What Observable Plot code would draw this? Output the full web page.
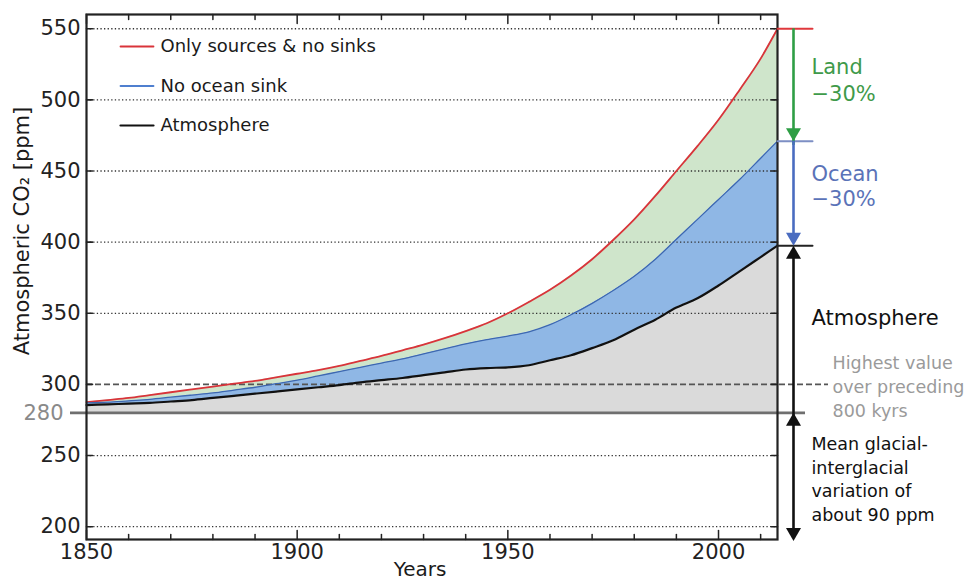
<!DOCTYPE html>
<html>
<head>
<meta charset="utf-8">
<script src="https://cdn.jsdelivr.net/npm/d3@7"></script>
<script src="https://cdn.jsdelivr.net/npm/@observablehq/plot@0.6"></script>
<style>
  html, body { margin: 0; padding: 0; background: #fff; }
  #chart svg { display: block; }
</style>
</head>
<body>
<div id="chart"></div>
<script>
// ---- Data ----
const years = [1850, 1855, 1860, 1865, 1870, 1875, 1880, 1885, 1890, 1895,
               1900, 1905, 1910, 1915, 1920, 1925, 1930, 1935, 1940, 1945,
               1950, 1955, 1960, 1965, 1970, 1975, 1980, 1985, 1990, 1995,
               2000, 2005, 2010, 2014];
// Atmosphere (observed CO2, ppm)
const atmosphere = [285.5, 286, 286.5, 287, 288, 289, 290.5, 292, 293.5, 295,
                    296.5, 298, 299.5, 301.5, 303, 304.5, 306.5, 308.5, 310.5, 311.5,
                    312, 313.5, 317, 320.5, 325.5, 331, 338.5, 345.5, 354, 360.5,
                    369.5, 379.5, 389.5, 397.5];
// No ocean sink
const noOceanSink = [287, 287.5, 288.5, 289.5, 291, 292.5, 294, 296, 298, 300.5,
                     303, 306, 309, 312, 315, 318, 321.5, 325, 328.5, 331.5,
                     334, 337, 342, 349, 357, 366, 376, 388, 402, 416,
                     430, 444, 459, 471];
// Only sources & no sinks
const onlySources = [287.5, 289, 290.5, 292.5, 294.5, 296.5, 298.5, 300.5, 302.5, 305,
                     307.5, 310, 313, 316.5, 320, 324, 328, 332.5, 337.5, 343,
                     350, 358, 366.5, 376.5, 388, 401.5, 416, 432.5, 450, 467.5,
                     486, 507, 529, 550];

const yTicks = [200, 250, 300, 350, 400, 450, 500, 550];
const gridValues = [200, 250, 350, 400, 450, 500, 550];
const xLabelTicks = [1850, 1900, 1950, 2000];
const xMinorTicks = [1860, 1870, 1880, 1890, 1910, 1920, 1930, 1940, 1960, 1970, 1980, 1990, 2010];
const preIndustrial = 280;
const highest800k = 300;
const glacialVariation = 90;

const legendLabels = ["Only sources & no sinks", "No ocean sink", "Atmosphere"];
const legendColors = ["#d9343a", "#4f7fcf", "#111111"];

// ---- Build table ----
const rows = years.map((year, i) => ({
  year, atm: atmosphere[i], noOcean: noOceanSink[i], sources: onlySources[i]
}));
const last = rows[rows.length - 1];
const lastYear = last.year;

const FONT = "DejaVu Sans, Liberation Sans, Arial, sans-serif";
const lineShape = {draw(context, l) { context.moveTo(0, 0); context.lineTo(0, -l); }};

const ARROW_DX = 16;
const TEXT_DX = 34;

function head(y, up, color) {
  return Plot.vector([y], {
    x: () => lastYear, y: d => d, dx: ARROW_DX,
    rotate: up ? 0 : 180, anchor: "end", length: 13, r: 7.5,
    shape: "spike", fill: color, stroke: "none"
  });
}
function hline(y, color) {
  return Plot.vector([y], {
    x: () => lastYear, y: d => d, rotate: 90, anchor: "start", length: 35,
    shape: lineShape, stroke: color, strokeWidth: 2
  });
}
// inward tick marks
function yTickMarks(anchor) {
  return Plot.vector(yTicks, {frameAnchor: anchor, y: d => d, rotate: anchor === "left" ? 90 : 270,
    anchor: "start", length: 6, shape: lineShape, stroke: "#222", strokeWidth: 1.6});
}
function xTickMarks(ticks, anchor, len) {
  return Plot.vector(ticks, {frameAnchor: anchor, x: d => d, rotate: anchor === "bottom" ? 0 : 180,
    anchor: "start", length: len, shape: lineShape, stroke: "#222", strokeWidth: 1.5});
}

const legendMarks = legendLabels.flatMap((label, i) => [
  Plot.vector([label], {frameAnchor: "top-left", dx: 34, dy: 32 + i * 39.5, rotate: 90,
    anchor: "start", length: 33, shape: lineShape, stroke: legendColors[i], strokeWidth: i === 2 ? 2.2 : 1.8}),
  Plot.text([label], {frameAnchor: "top-left", dx: 74, dy: 32 + i * 39.5, text: d => d,
    textAnchor: "start", lineAnchor: "middle", fontSize: 18, fill: "#1a1a1a"})
]);

const chart = Plot.plot({
  width: 966,
  height: 582,
  marginLeft: 86,
  marginRight: 189,
  marginTop: 14,
  marginBottom: 43,
  style: {fontFamily: FONT, fontSize: "21px", color: "#222", background: "#fff"},
  x: {domain: [1850, 2014], label: null},
  y: {domain: [191, 560], label: null},
  marks: [
    // fills
    Plot.areaY(rows, {x: "year", y1: () => preIndustrial, y2: "atm", fill: "#dadada", curve: "monotone-x"}),
    Plot.areaY(rows, {x: "year", y1: "atm", y2: "noOcean", fill: "#8fb7e5", curve: "monotone-x"}),
    Plot.areaY(rows, {x: "year", y1: "noOcean", y2: "sources", fill: "#cfe5cb", curve: "monotone-x"}),
    // grid
    Plot.ruleY(gridValues, {stroke: "#333", strokeWidth: 1.3, strokeDasharray: "1.3,2.3"}),
    // highest over 800 kyrs (dashed)
    Plot.ruleY([highest800k], {stroke: "#555", strokeWidth: 1.7, strokeDasharray: "6,3", insetRight: -51}),
    // pre-industrial 280
    Plot.ruleY([preIndustrial], {stroke: "#6f6f6f", strokeWidth: 2.6, insetLeft: -16, insetRight: -28}),
    Plot.text([preIndustrial], {frameAnchor: "left", y: d => d, text: d => String(d), dx: -23,
      textAnchor: "end", fontSize: 21, fill: "#8a8a8a"}),
    // series lines
    Plot.line(rows, {x: "year", y: "sources", stroke: "#d9343a", strokeWidth: 1.8, curve: "monotone-x"}),
    Plot.line(rows, {x: "year", y: "noOcean", stroke: "#3d68b0", strokeWidth: 1.3, curve: "monotone-x"}),
    Plot.line(rows, {x: "year", y: "atm", stroke: "#111", strokeWidth: 2.2, curve: "monotone-x"}),
    // axes
    Plot.axisY({anchor: "left", ticks: yTicks, tickSize: 0, tickPadding: 6, label: null, fontSize: 21}),
    Plot.axisX({anchor: "bottom", ticks: xLabelTicks, tickSize: 0, tickPadding: 5, label: null, fontSize: 21, tickFormat: d => String(d)}),
    yTickMarks("left"),
    yTickMarks("right"),
    xTickMarks(xMinorTicks, "bottom", 5),
    xTickMarks(xLabelTicks, "bottom", 9),
    xTickMarks(xMinorTicks, "top", 5),
    xTickMarks(xLabelTicks, "top", 9),
    Plot.frame({stroke: "#222", strokeWidth: 2.2}),
    // axis titles
    Plot.text(["Atmospheric CO₂ [ppm]"], {frameAnchor: "left", text: d => d, rotate: -90, dx: -64, dy: -46,
      textAnchor: "middle", lineAnchor: "middle", fontSize: 21, fill: "#1a1a1a"}),
    Plot.text(["Years"], {frameAnchor: "bottom", text: d => d, dx: -12, dy: 30,
      textAnchor: "middle", lineAnchor: "middle", fontSize: 20, fill: "#1a1a1a"}),
    // legend
    ...legendMarks,
    // right-side annotations
    hline(last.sources, "#e0383c"),
    hline(last.noOcean, "#7d8fc4"),
    hline(last.atm, "#222"),
    Plot.ruleX([lastYear], {y1: () => last.sources, y2: () => last.noOcean - 3, dx: ARROW_DX, stroke: "#2e9e44", strokeWidth: 2.6}),
    head(last.noOcean, false, "#2e9e44"),
    Plot.ruleX([lastYear], {y1: () => last.noOcean, y2: () => last.atm + 3, dx: ARROW_DX, stroke: "#4a6cc0", strokeWidth: 2.6}),
    head(last.atm, false, "#4a6cc0"),
    Plot.ruleX([lastYear], {y1: () => last.atm - 3, y2: () => preIndustrial - glacialVariation + 3, dx: ARROW_DX, stroke: "#111", strokeWidth: 2.6}),
    head(last.atm, true, "#111"),
    head(preIndustrial, true, "#111"),
    head(preIndustrial - glacialVariation, false, "#111"),
    Plot.text(["Land\n−30%"], {x: () => lastYear, y: () => (last.sources + last.noOcean) / 2, text: d => d,
      dx: TEXT_DX, dy: -6, textAnchor: "start", fontSize: 21, lineHeight: 1.28, fill: "#3f9a4a"}),
    Plot.text(["Ocean\n−30%"], {x: () => lastYear, y: () => (last.noOcean + last.atm) / 2, text: d => d,
      dx: TEXT_DX, dy: -8, textAnchor: "start", fontSize: 21, lineHeight: 1.2, fill: "#5b73b8"}),
    Plot.text(["Atmosphere"], {x: () => lastYear, y: () => (last.atm + preIndustrial) / 2, text: d => d,
      dx: TEXT_DX, dy: -11, textAnchor: "start", fontSize: 21, fill: "#111"}),
    Plot.text(["Highest value\nover preceding\n800 kyrs"], {x: () => lastYear, y: () => highest800k, text: d => d,
      dx: 55, dy: 1, textAnchor: "start", fontSize: 17.5, lineHeight: 1.37, fill: "#9a9a9a"}),
    Plot.text(["Mean glacial-\ninterglacial\nvariation of\nabout 90 ppm"], {x: () => lastYear,
      y: () => preIndustrial - glacialVariation / 2, text: d => d,
      dx: TEXT_DX, dy: 1, textAnchor: "start", fontSize: 17.5, lineHeight: 1.35, fill: "#111"})
  ]
});
document.getElementById("chart").appendChild(chart);
</script>
</body>
</html>
